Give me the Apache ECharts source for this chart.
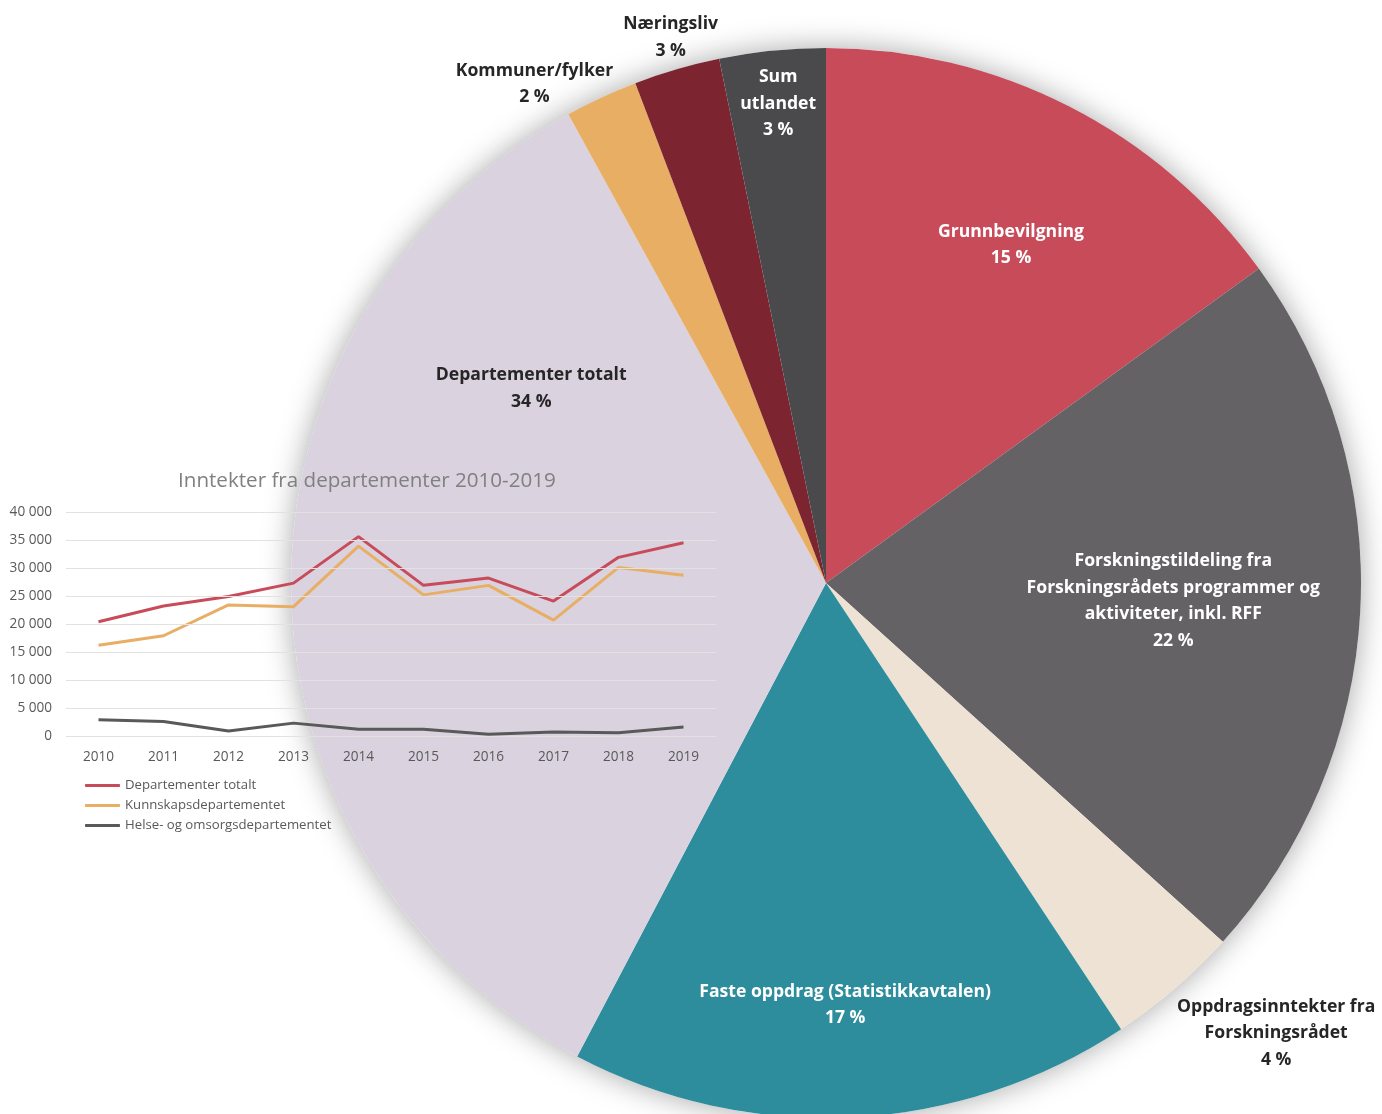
<!DOCTYPE html>
<html>
<head>
<meta charset="utf-8">
<script src="https://cdn.jsdelivr.net/npm/echarts@6/dist/echarts.min.js"></script>
<style>
html,body{margin:0;padding:0;background:#fff;}
#chart{width:1382px;height:1114px;}
</style>
</head>
<body>
<div id="chart"></div>
<script>
// ---- Pie data ----
var pieNames = [
  'Grunnbevilgning',
  'Forskningstildeling fra\nForskningsrådets programmer og\naktiviteter, inkl. RFF',
  'Oppdragsinntekter fra\nForskningsrådet',
  'Faste oppdrag (Statistikkavtalen)',
  'Departementer totalt',
  'Kommuner/fylker',
  'Næringsliv',
  'Sum\nutlandet'
];
var pieValues = [15.0, 21.7, 4.0, 17.0, 34.3, 2.2, 2.6, 3.2];

// ---- Line chart data ----
var years = ['2010','2011','2012','2013','2014','2015','2016','2017','2018','2019'];
var depTotalt = [20400, 23200, 24900, 27300, 35600, 26900, 28200, 24100, 31900, 34500];
var kunnskap  = [16200, 17900, 23400, 23100, 33900, 25200, 26900, 20700, 30100, 28700];
var helse     = [2900, 2600, 900, 2300, 1200, 1200, 300, 700, 600, 1600];
var yTicks = [0, 5000, 10000, 15000, 20000, 25000, 30000, 35000, 40000];

// ---- styles ----
var pieColors = ['#C84B5A','#646264','#EDE2D4','#2E8D9C','#DAD2DF','#E8AE63','#7C2430','#4A4A4D'];
var labelColors = ['#fff','#fff','#262626','#fff','#262626','#262626','#262626','#fff'];
// label placement: [angle from top in degrees (clockwise), fraction of radius]
var labelPlace = [[28.7,0.72],[93,0.65],[135,1.19],[177.4,0.79],[303.4,0.66],[329.7,1.08],[344.1,1.06],[354.3,0.90]];
var CX = 826, CY = 583, R = 535;
var FONT = '"Open Sans"';

var chart = echarts.init(document.getElementById('chart'), null, {renderer:'canvas'});

var pieData = pieNames.map(function(n, i){
  return {name: n, value: pieValues[i], itemStyle:{color: pieColors[i]}, label:{color: labelColors[i]}};
});

var option = {
  backgroundColor: '#fff',
  animation: false,
  title: {
    text: 'Inntekter fra departementer 2010-2019',
    left: 173, top: 466,
    textStyle: {fontFamily: FONT, fontSize: 20.6, fontWeight: 'normal', color: '#808080'}
  },
  legend: {
    data: ['Departementer totalt','Kunnskapsdepartementet','Helse- og omsorgsdepartementet'],
    orient: 'vertical', left: 80, top: 774,
    icon: 'roundRect', itemWidth: 35, itemHeight: 3, itemGap: 7,
    textStyle: {fontFamily: FONT, fontSize: 13.2, color: '#595959'}
  },
  grid: {left: 66, top: 512, width: 650, height: 224, containLabel: false},
  xAxis: {
    type: 'category', data: years, boundaryGap: true,
    axisLine: {show: false}, axisTick: {show: false},
    axisLabel: {color: '#595959', fontFamily: FONT, fontSize: 13.6, margin: 14},
    z: 10
  },
  yAxis: {
    type: 'value', min: 0, max: 40000, interval: 5000,
    axisLine: {show:false}, axisTick:{show:false},
    axisLabel: {color:'#595959', fontFamily: FONT, fontSize: 13.6, margin: 14,
      formatter: function(v){ return String(v).replace(/\B(?=(\d{3})+(?!\d))/g, ' '); }},
    splitLine: {lineStyle: {color: '#E2E2E2', width: 1}},
    z: 10
  },
  series: [
    {
      type: 'pie', silent: true, z: 1,
      center: [CX, CY], radius: R, startAngle: 90,
      label: {show:false}, labelLine:{show:false},
      itemStyle: {color:'#ffffff', shadowBlur: 30, shadowColor: 'rgba(0,0,0,0.35)'},
      data: [{value: 1, name: '_shadow'}]
    },
    {
      type: 'pie', silent: true, z: 2,
      center: [CX, CY], radius: R, startAngle: 90, clockwise: true,
      avoidLabelOverlap: false,
      labelLine: {show: false},
      label: {
        show: true, position: 'inside',
        fontFamily: FONT, fontWeight: 'bold', fontSize: 17.6, lineHeight: 26.5,
        align: 'center',
        formatter: function(p){ return p.name + '\n' + Math.round(p.percent) + ' %'; }
      },
      labelLayout: function(p){
        var lp = labelPlace[p.dataIndex];
        var a = lp[0] * Math.PI / 180;
        return {
          x: CX + R * lp[1] * Math.sin(a),
          y: CY - R * lp[1] * Math.cos(a),
          align: 'center', verticalAlign: 'middle'
        };
      },
      data: pieData
    },
    {
      name: 'Departementer totalt', type: 'line', z: 5, data: depTotalt,
      symbol: 'none', lineStyle: {width: 3, color: '#C84B5A'}, itemStyle:{color:'#C84B5A'}
    },
    {
      name: 'Kunnskapsdepartementet', type: 'line', z: 5, data: kunnskap,
      symbol: 'none', lineStyle: {width: 3, color: '#E8AE63'}, itemStyle:{color:'#E8AE63'}
    },
    {
      name: 'Helse- og omsorgsdepartementet', type: 'line', z: 5, data: helse,
      symbol: 'none', lineStyle: {width: 3, color: '#595959'}, itemStyle:{color:'#595959'}
    }
  ]
};
chart.setOption(option);
</script>
</body>
</html>
